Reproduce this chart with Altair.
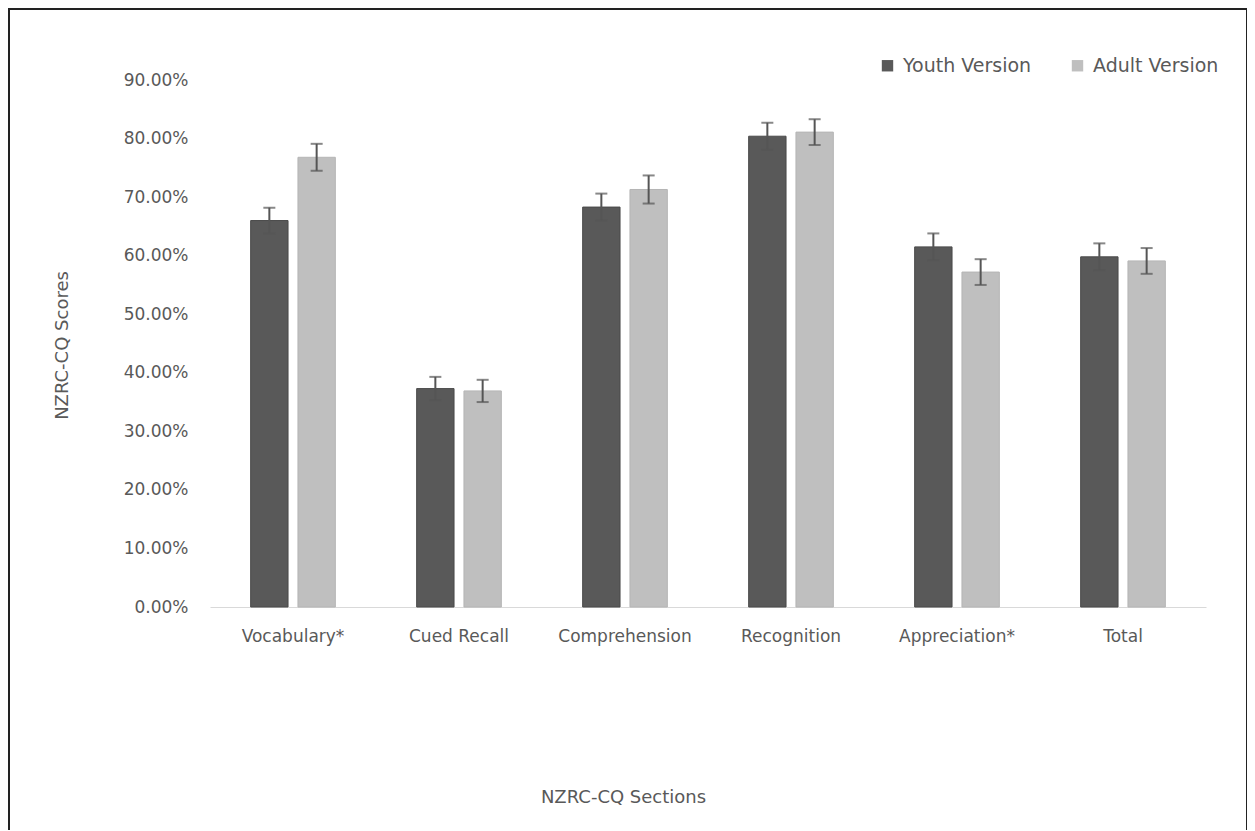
import altair as alt
import pandas as pd

categories = ["Vocabulary*", "Cued Recall", "Comprehension", "Recognition", "Appreciation*", "Total"]
series = ["Youth Version", "Adult Version"]
youth = [66.0, 37.3, 68.3, 80.4, 61.5, 59.8]
adult = [76.8, 36.9, 71.3, 81.1, 57.2, 59.1]
youth_err = [2.2, 2.0, 2.3, 2.3, 2.3, 2.3]
adult_err = [2.3, 1.9, 2.4, 2.2, 2.2, 2.2]
y_ticks = [0, 0.1, 0.2, 0.3, 0.4, 0.5, 0.6, 0.7, 0.8, 0.9]

rows = []
for c, v, e in zip(categories, youth, youth_err):
    rows.append({"section": c, "version": series[0], "score": v / 100, "lo": (v - e) / 100, "hi": (v + e) / 100})
for c, v, e in zip(categories, adult, adult_err):
    rows.append({"section": c, "version": series[1], "score": v / 100, "lo": (v - e) / 100, "hi": (v + e) / 100})
df = pd.DataFrame(rows)

FONT = "DejaVu Sans"
GREY = "#595959"

W, H = 996, 527

xenc = alt.X("section:N", sort=categories,
             scale=alt.Scale(paddingInner=0.49, paddingOuter=0.245),
             axis=alt.Axis(title="NZRC-CQ Sections", labelAngle=0, ticks=False,
                           domainColor="#D9D9D9", labelPadding=21, labelFontSize=17,
                           labelColor=GREY, labelFont=FONT,
                           titleFont=FONT, titleFontSize=18, titleColor=GREY,
                           titleFontWeight="normal", titleX=413, titleY=190,
                           titleAlign="center", titleBaseline="middle"))
xoff = alt.XOffset("version:N", sort=series, scale=alt.Scale(paddingInner=0.21, paddingOuter=0))

base = alt.Chart(df)

bars = base.mark_bar(strokeWidth=1).encode(
    x=xenc,
    xOffset=xoff,
    y=alt.Y("score:Q", scale=alt.Scale(domain=[0, 0.9], nice=False),
            axis=alt.Axis(title="NZRC-CQ Scores", format=".2%", values=y_ticks,
                          grid=False, ticks=False, domain=False, labelPadding=22,
                          labelFontSize=17, labelColor=GREY, labelFont=FONT,
                          titleFont=FONT, titleFontSize=18, titleColor=GREY,
                          titleFontWeight="normal", titleX=-148, titleY=265,
                          titleAngle=-90, titleAlign="center", titleBaseline="middle")),
    color=alt.Color("version:N", sort=series,
                    scale=alt.Scale(domain=series, range=["#595959", "#BFBFBF"]),
                    legend=alt.Legend(title=None, orient="none", legendX=668, legendY=-24,
                                      direction="horizontal", symbolType="square",
                                      symbolSize=130, symbolStrokeWidth=0,
                                      labelFontSize=19, labelColor=GREY, labelFont=FONT,
                                      columnPadding=36, labelOffset=6)),
    stroke=alt.Color("version:N", sort=series,
                     scale=alt.Scale(domain=series, range=["#4A4A4A", "#B5B5B5"]),
                     legend=None),
)

rules = base.mark_rule(color="#555555", strokeWidth=2).encode(
    x=alt.X("section:N", sort=categories), xOffset=xoff,
    y="lo:Q", y2="hi:Q")

cap_hi = base.mark_tick(color="#555555", thickness=2, size=12).encode(
    x=alt.X("section:N", sort=categories), xOffset=xoff, y="hi:Q")
cap_lo = base.mark_tick(color="#555555", thickness=2, size=12).encode(
    x=alt.X("section:N", sort=categories), xOffset=xoff, y="lo:Q")

border = alt.Chart(pd.DataFrame({"a": [0]})).mark_rect(
    fill=None, stroke="#222222", strokeWidth=2).encode(
    x=alt.value(-201), x2=alt.value(1037), y=alt.value(-71), y2=alt.value(760))

chart = alt.layer(bars, rules, cap_hi, cap_lo, border).properties(
    width=W, height=H,
    autosize=alt.AutoSizeParams(type="none"),
    padding={"left": 202, "top": 72, "right": 41, "bottom": 223},
).configure_view(stroke=None)

chart.save("out.html", embed_options={"renderer": "svg", "actions": False})
